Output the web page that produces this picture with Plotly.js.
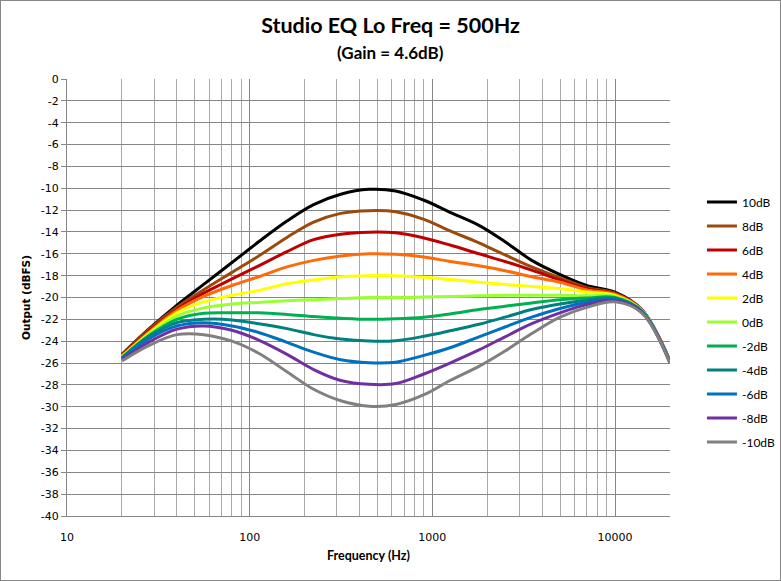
<!DOCTYPE html>
<html>
<head>
<meta charset="utf-8">
<script src="https://cdn.plot.ly/plotly-3.0.1.min.js"></script>
<style>
  body { margin: 0; background: #fff; }
  #wrap { position: relative; width: 781px; height: 581px; }
  #frame { position: absolute; left: 0; top: 0; width: 779px; height: 579px; border: 1px solid #868686; pointer-events: none; }
</style>
</head>
<body>
<div id="wrap">
  <div id="graph" style="width:781px;height:581px;"></div>
  <div id="frame"></div>
</div>
<script>
// frequency points (Hz), roughly half-octave steps
var freqs = [20, 28, 40, 56, 80, 112, 160, 224, 315, 450, 630, 900, 1250, 1800, 2500, 3500, 5000, 7000, 10000, 14000, 20000];

// output (dBFS) per gain setting
var gain10  = [-25.2, -22.9, -20.7, -18.8, -16.8, -14.9, -13.0, -11.5, -10.55, -10.1, -10.25, -11.1, -12.2, -13.4, -14.9, -16.6, -17.9, -18.9, -19.5, -21.1, -25.8];
var gain8   = [-25.25, -22.95, -20.9, -19.3, -17.7, -16.2, -14.5, -13.1, -12.3, -12.05, -12.15, -12.85, -13.9, -15.0, -16.1, -17.2, -18.2, -19.1, -19.6, -21.1, -25.8];
var gain6   = [-25.3, -23.1, -21.1, -19.6, -18.3, -17.1, -15.8, -14.7, -14.2, -14.02, -14.08, -14.55, -15.2, -16.0, -16.7, -17.5, -18.4, -19.2, -19.65, -21.15, -25.85];
var gain4   = [-25.35, -23.2, -21.2, -19.9, -18.9, -18.1, -17.2, -16.6, -16.2, -16.0, -16.05, -16.3, -16.7, -17.1, -17.55, -18.1, -18.6, -19.3, -19.7, -21.15, -25.85];
var gain2   = [-25.4, -23.3, -21.4, -20.4, -19.8, -19.35, -18.75, -18.4, -18.1, -18.0, -18.0, -18.15, -18.35, -18.6, -18.8, -19.0, -19.2, -19.5, -19.8, -21.2, -25.9];
var gain0   = [-25.45, -23.4, -21.7, -20.95, -20.6, -20.45, -20.3, -20.2, -20.1, -20.0, -20.0, -19.95, -19.9, -19.85, -19.8, -19.8, -19.8, -19.85, -19.9, -21.2, -25.9];
var gainM2  = [-25.5, -23.5, -22.0, -21.45, -21.4, -21.4, -21.55, -21.75, -21.9, -22.0, -21.95, -21.8, -21.5, -21.1, -20.8, -20.5, -20.2, -20.05, -20.0, -21.25, -25.9];
var gainM4  = [-25.55, -23.6, -22.3, -22.0, -22.05, -22.4, -22.85, -23.4, -23.8, -23.98, -23.95, -23.55, -23.05, -22.45, -21.8, -21.1, -20.6, -20.25, -20.1, -21.25, -25.95];
var gainM6  = [-25.6, -23.8, -22.6, -22.3, -22.6, -23.2, -24.1, -25.0, -25.7, -25.97, -25.92, -25.3, -24.6, -23.6, -22.7, -21.8, -21.0, -20.45, -20.2, -21.3, -25.95];
var gainM8  = [-25.7, -24.1, -22.9, -22.6, -23.0, -23.9, -25.2, -26.6, -27.6, -27.95, -27.88, -27.0, -26.0, -24.8, -23.6, -22.4, -21.4, -20.65, -20.3, -21.35, -26.0];
var gainM10 = [-25.8, -24.4, -23.4, -23.4, -24.0, -25.1, -26.8, -28.4, -29.45, -29.95, -29.8, -28.9, -27.6, -26.3, -24.9, -23.3, -21.8, -20.9, -20.4, -21.4, -26.0];

var seriesNames = ["10dB", "8dB", "6dB", "4dB", "2dB", "0dB", "-2dB", "-4dB", "-6dB", "-8dB", "-10dB"];
var seriesValues = [gain10, gain8, gain6, gain4, gain2, gain0, gainM2, gainM4, gainM6, gainM8, gainM10];

// tick labels
var xTickVals = [10, 100, 1000, 10000];
var yTickVals = [0, -2, -4, -6, -8, -10, -12, -14, -16, -18, -20, -22, -24, -26, -28, -30, -32, -34, -36, -38, -40];

var lineColors = ["#000000", "#9c4a0c", "#c00000", "#ff6a0a", "#ffff00", "#99ff33", "#00b050", "#008080", "#0070c0", "#7030a0", "#808080"];

function buildEqGraph(){
  let data = [];

  seriesNames.forEach((name, i) => {
    let trace = {
      x: freqs,
      y: seriesValues[i],
      name: name,
      legendgroup: name,
      mode: "lines",
      line: {color: lineColors[i], width: 3, shape: "spline", smoothing: 1},
      type: "scatter"
    };
    data.push(trace);
  });

  var gridMajor = "#868686";
  var gridMinor = "#a9a9a9";

  var layout = {
    width: 781,
    height: 581,
    margin: {l: 67, r: 111, t: 79, b: 65, autoexpand: false},
    paper_bgcolor: "#ffffff",
    plot_bgcolor: "#ffffff",
    showlegend: true,
    title: {
      text: "<b>Studio EQ Lo Freq = 500Hz</b>",
      font: {family: "Lato", size: 21.5, color: "#000"},
      x: 0.5, xref: "container",
      y: 1 - 25 / 581, yref: "container", yanchor: "middle"
    },
    annotations: [{
      text: "<b>(Gain = 4.6dB)</b>",
      font: {family: "Lato", size: 17, color: "#000"},
      xref: "paper", yref: "paper",
      x: (390 - 67) / 603, y: (516 - 52) / 437,
      xanchor: "center", yanchor: "middle",
      showarrow: false
    }],
    xaxis: {
      type: "log",
      range: [1, Math.log10(20000)],
      tickvals: xTickVals,
      ticktext: xTickVals.map(String),
      ticks: "",
      ticklabelstandoff: 11,
      tickfont: {family: "DejaVu Sans", size: 11, color: "#000"},
      showgrid: true,
      gridcolor: gridMajor,
      gridwidth: 1,
      minor: {dtick: "D1", showgrid: true, gridcolor: gridMinor, gridwidth: 1, ticks: ""},
      showline: true,
      linecolor: gridMajor,
      zeroline: false,
      title: {text: "<b>Frequency (Hz)</b>", font: {family: "Lato", size: 12.5, color: "#000"}, standoff: 8}
    },
    yaxis: {
      range: [-40, 0],
      tickvals: yTickVals,
      ticktext: yTickVals.map(String),
      ticks: "outside",
      ticklen: 5,
      tickcolor: gridMajor,
      tickfont: {family: "DejaVu Sans", size: 11, color: "#000"},
      showgrid: true,
      gridcolor: gridMajor,
      gridwidth: 1,
      showline: true,
      linecolor: gridMajor,
      zeroline: false,
      title: {text: "<b>Output (dBFS)</b>", font: {family: "DejaVu Sans", size: 10.5, color: "#000"}, standoff: 8}
    },
    legend: {
      x: 1.053, xanchor: "left",
      y: (516 - 322) / 437, yanchor: "middle",
      traceorder: "grouped",
      tracegroupgap: 5,
      font: {family: "Lato", size: 12, color: "#000"},
      bgcolor: "rgba(0,0,0,0)"
    }
  };

  Plotly.newPlot("graph", data, layout, {displayModeBar: false, staticPlot: true});
}

buildEqGraph();
</script>
</body>
</html>
